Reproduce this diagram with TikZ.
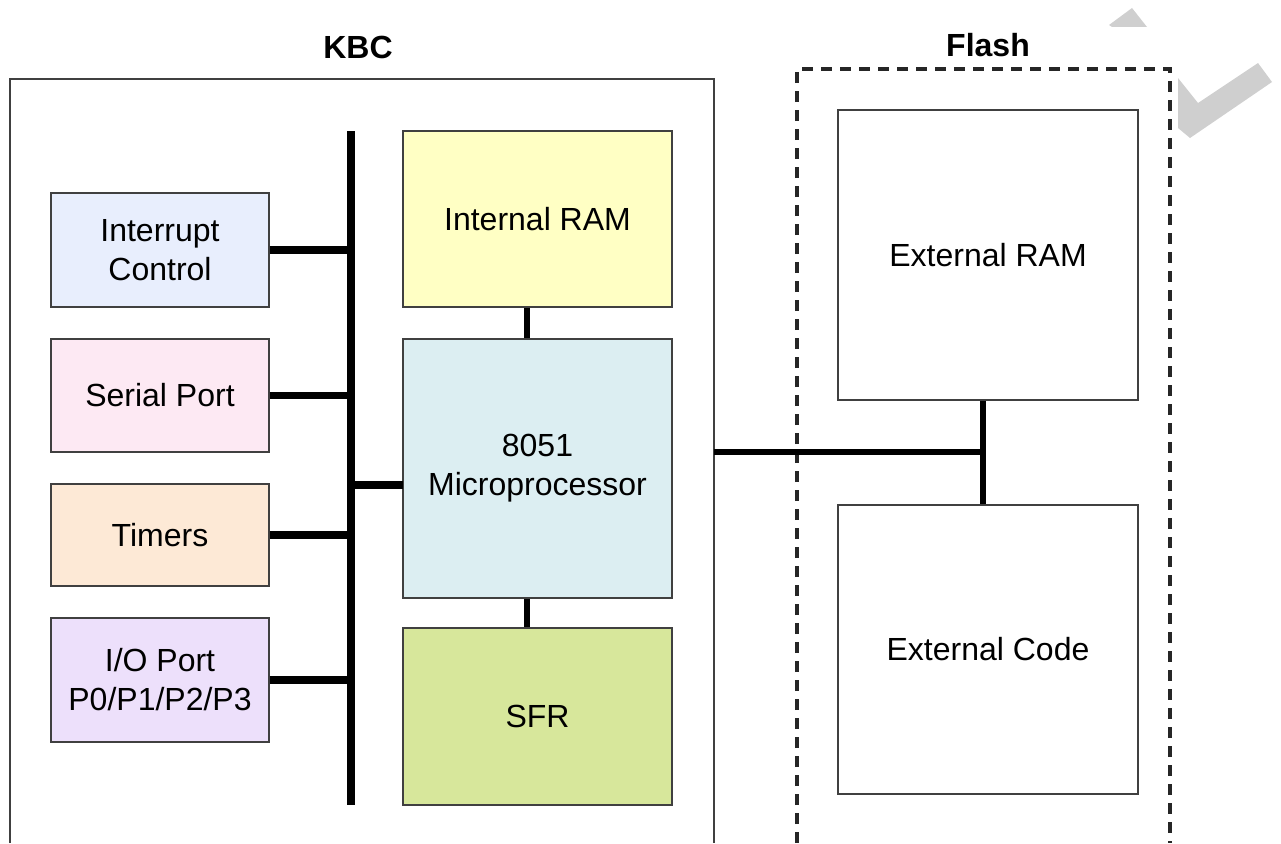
\documentclass[tikz,border=0pt]{standalone}
\usepackage{fontspec}
\setmainfont{Liberation Sans}
\definecolor{cInt}{HTML}{E8EEFD}
\definecolor{cSer}{HTML}{FDE9F3}
\definecolor{cTim}{HTML}{FDE9D6}
\definecolor{cIO}{HTML}{EDE0FB}
\definecolor{cRam}{HTML}{FFFFC4}
\definecolor{cCpu}{HTML}{DCEEF2}
\definecolor{cSfr}{HTML}{D7E79B}
\definecolor{cBorder}{HTML}{404040}
\definecolor{cMark}{HTML}{CFCFCF}
\tikzset{
  blk/.style={draw=cBorder, line width=1.4pt, inner sep=0pt, align=center,
    font=\fontsize{32}{39}\selectfont},
  bus/.style={line width=7.5pt, black},
  link/.style={line width=5.5pt, black},
  ttl/.style={font=\fontsize{32}{36}\selectfont\bfseries},
}
\begin{document}
\begin{tikzpicture}[x=1pt,y=-1pt]
\useasboundingbox (0,0) rectangle (1281,843);
% watermark
\fill[cMark] (1178,78) -- (1198,103) -- (1258,63) -- (1272,82) -- (1190,138) -- (1178,128) -- cycle;
\fill[cMark] (1109,25) -- (1132,8) -- (1147,27) -- (1112,27) -- cycle;
% titles
\node[ttl] (kbct) at (358,47) {KBC};
\node[ttl] (flt) at (988,45) {Flash};
% outer frames
\draw[cBorder, line width=2.2pt] (10,843) -- (10,79) -- (714,79) -- (714,843);
\draw[black!85, line width=3.5pt, dash pattern=on 11pt off 8pt] (797,843) -- (797,69) -- (1170,69) -- (1170,843);
% left blocks
\node[blk, fill=cInt, minimum width=218pt, minimum height=114pt] (ic) at (160,250) {Interrupt\\Control};
\node[blk, fill=cSer, minimum width=218pt, minimum height=113pt] (sp) at (160,395.5) {Serial Port};
\node[blk, fill=cTim, minimum width=218pt, minimum height=102pt] (tm) at (160,535) {Timers};
\node[blk, fill=cIO, minimum width=218pt, minimum height=124pt] (io) at (160,680) {I/O Port\\P0/P1/P2/P3};
% centre blocks
\node[blk, fill=cRam, minimum width=269pt, minimum height=176pt] (ram) at (537.5,219) {Internal RAM};
\node[blk, fill=cCpu, minimum width=269pt, minimum height=259pt] (cpu) at (537.5,468.5) {8051\\Microprocessor};
\node[blk, fill=cSfr, minimum width=269pt, minimum height=177pt] (sfr) at (537.5,716.5) {SFR};
% flash blocks
\node[blk, fill=white, minimum width=300pt, minimum height=290pt] (eram) at (988,255) {External RAM};
\node[blk, fill=white, minimum width=300pt, minimum height=289pt] (ecode) at (988,649.5) {External Code};
% bus
\coordinate (bustop) at (351,131);
\coordinate (busbot) at (351,805);
\draw[bus] (bustop) -- (busbot);
\draw[bus] (ic.east) -- (ic.east -| bustop);
\draw[bus] (sp.east) -- (sp.east -| bustop);
\draw[bus] (tm.east) -- (tm.east -| bustop);
\draw[bus] (io.east) -- (io.east -| bustop);
\coordinate (cpuin) at (403,485);
\draw[bus] (cpuin -| bustop) -- (cpuin);
% centre links
\draw[link] (ram.south -| 527,0) -- (cpu.north -| 527,0);
\draw[link] (cpu.south -| 527,0) -- (sfr.north -| 527,0);
% external link
\coordinate (kbcr) at (714,452);
\coordinate (jn) at (983,452);
\draw[link] (kbcr) -- (jn);
\draw[link] (eram.south -| jn) -- (ecode.north -| jn);
\end{tikzpicture}
\end{document}
